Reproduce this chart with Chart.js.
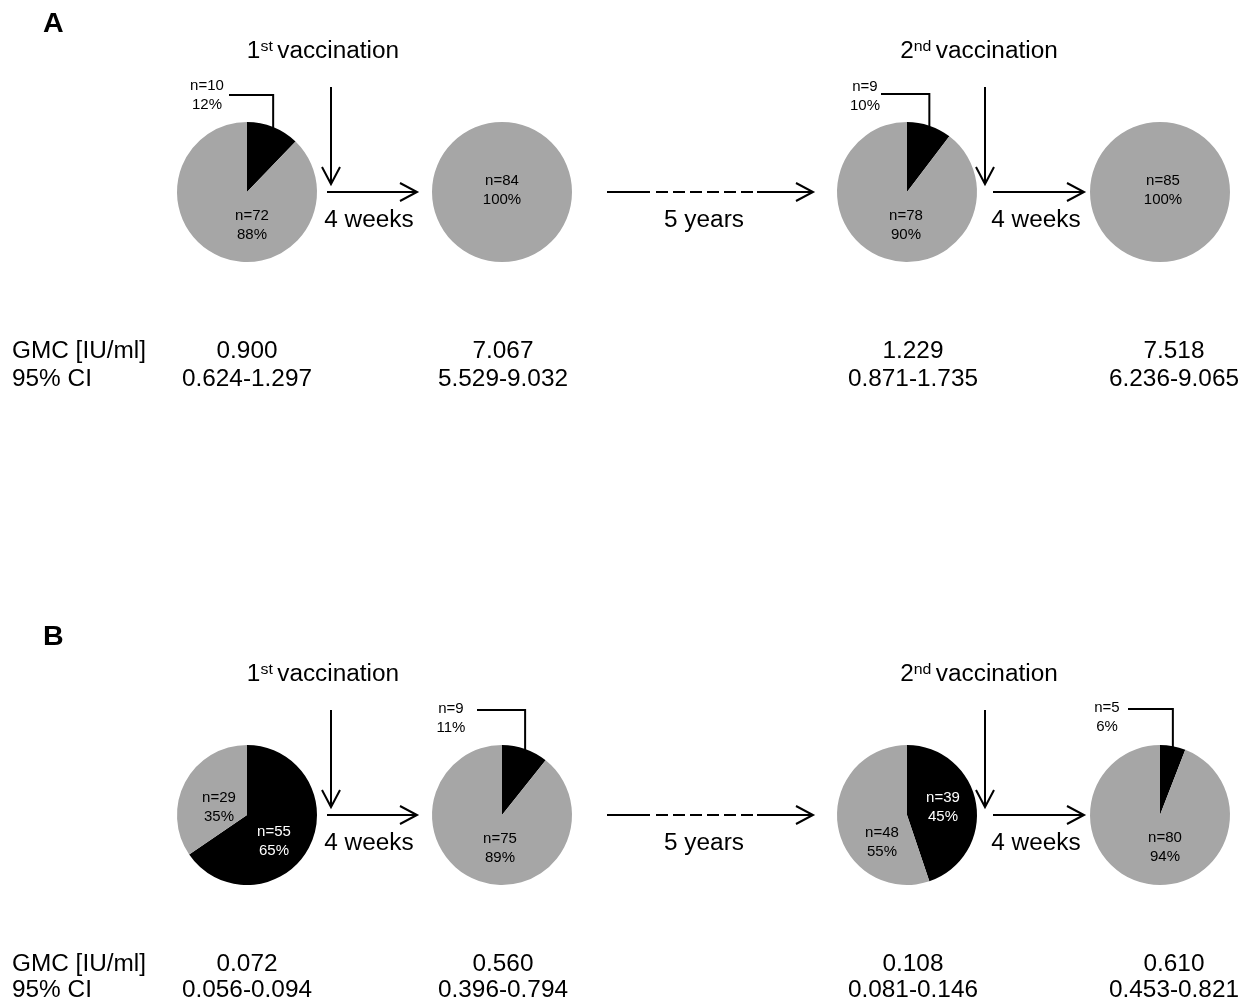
<!DOCTYPE html>
<html lang="en">
  <head>
    <meta charset="UTF-8" />
    <title>Seroprotection after 1st and 2nd vaccination</title>
    <script src="https://cdn.jsdelivr.net/npm/chart.js@4"></script>
    <style>
      body { margin: 0; background: #fff; }
      #figure { position: relative; width: 1253px; height: 1004px; overflow: hidden; }
      .pie { position: absolute; width: 260px; height: 260px; }
      #overlay { position: absolute; left: 0; top: 0; z-index: 2; }
      #overlay text { font-family: 'Liberation Sans', Arial, sans-serif; }
    </style>
  </head>
  <body>
    <div id="figure">
      <svg id="overlay" width="1253" height="1004" xmlns="http://www.w3.org/2000/svg"></svg>
    </div>

    <script>
      // one entry per pie: A1..A4 then B1..B4
      const panels = ['A', 'B'];
      const blackN = [10, 0, 9, 0, 55, 9, 39, 5];
      const greyN = [72, 84, 78, 85, 29, 75, 48, 80];
      const blackPct = [12, 0, 10, 0, 65, 11, 45, 6];
      const greyPct = [88, 100, 90, 100, 35, 89, 55, 94];
      const gmcValues = ['0.900', '7.067', '1.229', '7.518', '0.072', '0.560', '0.108', '0.610'];
      const ciValues = ['0.624-1.297', '5.529-9.032', '0.871-1.735', '6.236-9.065',
                        '0.056-0.094', '0.396-0.794', '0.081-0.146', '0.453-0.821'];

      // layout only
      const rowY = [192, 815];
      const colX = [247, 502, 907, 1160];
      const gmcX = [247, 503, 913, 1174];
      const gmcY = [[358, 386], [971, 997]];
      const greyLabelPos = [[5, 28], [0, -7], [-1, 28], [3, -7], [-28, -13], [-2, 28], [-25, 22], [5, 27]];
      const blackLabelPos = [null, null, null, null, [27, 21], null, [36, -13], null];
      const calloutText = [[-40, -102], null, [-42, -101], null, null, [-51, -102], null, [-53, -103]];
      const calloutElbow = [[-18, -97], null, [-26, -98], null, null, [-25, -105], null, [-32, -106]];

      const GREY = '#a6a6a6';
      const WIDE = 1.06; // big text in the figure is a little stretched sideways
      const figure = document.getElementById('figure');
      const svg = document.getElementById('overlay');
      const NS = 'http://www.w3.org/2000/svg';

      // leader line from the middle of the black slice up and to the left
      const calloutPlugin = {
        id: 'callout',
        afterDatasetsDraw(chart, args, opts) {
          if (!opts.elbow) return;
          const arc = chart.getDatasetMeta(0).data[0];
          const mid = (arc.startAngle + arc.endAngle) / 2;
          const ex = arc.x + arc.outerRadius * Math.cos(mid);
          const ey = arc.y + arc.outerRadius * Math.sin(mid);
          const ctx = chart.ctx;
          ctx.save();
          ctx.strokeStyle = '#000';
          ctx.lineWidth = 2;
          ctx.beginPath();
          ctx.moveTo(ex, ey + 1);
          ctx.lineTo(ex, arc.y + opts.elbow[1]);
          ctx.lineTo(arc.x + opts.elbow[0], arc.y + opts.elbow[1]);
          ctx.stroke();
          ctx.restore();
        }
      };

      function el(tag, attrs, text) {
        const node = document.createElementNS(NS, tag);
        for (const k in attrs) node.setAttribute(k, attrs[k]);
        if (text !== undefined) node.textContent = text;
        svg.appendChild(node);
        return node;
      }

      function label(x, y, str, size, extra) {
        const attrs = Object.assign({ x: x, y: y, 'font-size': size, 'text-anchor': 'middle', fill: '#000' }, extra || {});
        if (size > 20) attrs.transform = `translate(${x},0) scale(${WIDE},1) translate(${-x},0)`;
        return el('text', attrs, str);
      }

      function line(x1, y1, x2, y2, dash) {
        const attrs = { x1: x1, y1: y1, x2: x2, y2: y2, stroke: '#000', 'stroke-width': 2 };
        if (dash) attrs['stroke-dasharray'] = dash;
        el('line', attrs);
      }

      function head(x, y, dir) {
        const pts = dir === 'down'
          ? `${x - 9},${y - 17} ${x},${y} ${x + 9},${y - 17}`
          : `${x - 17},${y - 9} ${x},${y} ${x - 17},${y + 9}`;
        el('polyline', { points: pts, fill: 'none', stroke: '#000', 'stroke-width': 2 });
      }

      function title(x, y, num, sup) {
        const t = label(x, y, '', 23);
        const a = document.createElementNS(NS, 'tspan');
        a.textContent = num;
        const b = document.createElementNS(NS, 'tspan');
        b.setAttribute('font-size', 15);
        b.setAttribute('dy', -7);
        b.textContent = sup + ' ';
        const c = document.createElementNS(NS, 'tspan');
        c.setAttribute('dy', 7);
        c.textContent = 'vaccination';
        t.append(a, b, c);
      }

      function makePie(i) {
        const cx = colX[i % 4];
        const cy = rowY[Math.floor(i / 4)];
        const wrap = document.createElement('div');
        wrap.className = 'pie';
        wrap.style.left = (cx - 130) + 'px';
        wrap.style.top = (cy - 130) + 'px';
        const canvas = document.createElement('canvas');
        canvas.width = 260;
        canvas.height = 260;
        wrap.appendChild(canvas);
        figure.insertBefore(wrap, svg);

        new Chart(canvas, {
          type: 'pie',
          data: {
            labels: ['black', 'grey'],
            datasets: [{
              data: [blackN[i], greyN[i]],
              backgroundColor: ['#000000', GREY],
              borderWidth: 0
            }]
          },
          options: {
            responsive: false,
            animation: false,
            events: [],
            layout: { padding: 60 },
            plugins: {
              legend: { display: false },
              tooltip: { enabled: false },
              callout: { elbow: calloutElbow[i] }
            }
          },
          plugins: [calloutPlugin]
        });

        // slice labels
        const g = greyLabelPos[i];
        label(cx + g[0], cy + g[1], 'n=' + greyN[i], 15);
        label(cx + g[0], cy + g[1] + 18.5, greyPct[i] + '%', 15);
        const b = blackLabelPos[i];
        if (b) {
          label(cx + b[0], cy + b[1], 'n=' + blackN[i], 15, { fill: '#fff' });
          label(cx + b[0], cy + b[1] + 18.5, blackPct[i] + '%', 15, { fill: '#fff' });
        }
        const c = calloutText[i];
        if (c) {
          label(cx + c[0], cy + c[1], 'n=' + blackN[i], 15);
          label(cx + c[0], cy + c[1] + 19, blackPct[i] + '%', 15);
        }

        const r = Math.floor(i / 4);
        label(gmcX[i % 4], gmcY[r][0], gmcValues[i], 23);
        label(gmcX[i % 4], gmcY[r][1], ciValues[i], 23);
      }

      panels.forEach((p, r) => {
        const cy = rowY[r];
        label(43, r === 0 ? 32 : 645, p, 27, { 'text-anchor': 'start', 'font-weight': 'bold' });
        title(323, cy - 134, '1', 'st');
        title(979, cy - 134, '2', 'nd');

        // vaccination arrows
        [331, 985].forEach(x => {
          line(x, cy - 105, x, cy - 9);
          head(x, cy - 8, 'down');
        });
        // 4 weeks arrows
        [[327, 417], [993, 1084]].forEach(([x1, x2]) => {
          line(x1, cy, x2 - 1, cy);
          head(x2, cy, 'right');
        });
        label(369, cy + 35, '4 weeks', 23);
        label(1036, cy + 35, '4 weeks', 23);

        // 5 years arrow, dashed in the middle
        line(607, cy, 650, cy);
        line(656, cy, 753, cy, '12 5');
        line(757, cy, 812, cy);
        head(813, cy, 'right');
        label(704, cy + 35, '5 years', 23);

        label(12, gmcY[r][0], 'GMC [IU/ml]', 23, { 'text-anchor': 'start' });
        label(12, gmcY[r][1], '95% CI', 23, { 'text-anchor': 'start' });
      });

      for (let i = 0; i < 8; i++) makePie(i);
    </script>
  </body>
</html>
